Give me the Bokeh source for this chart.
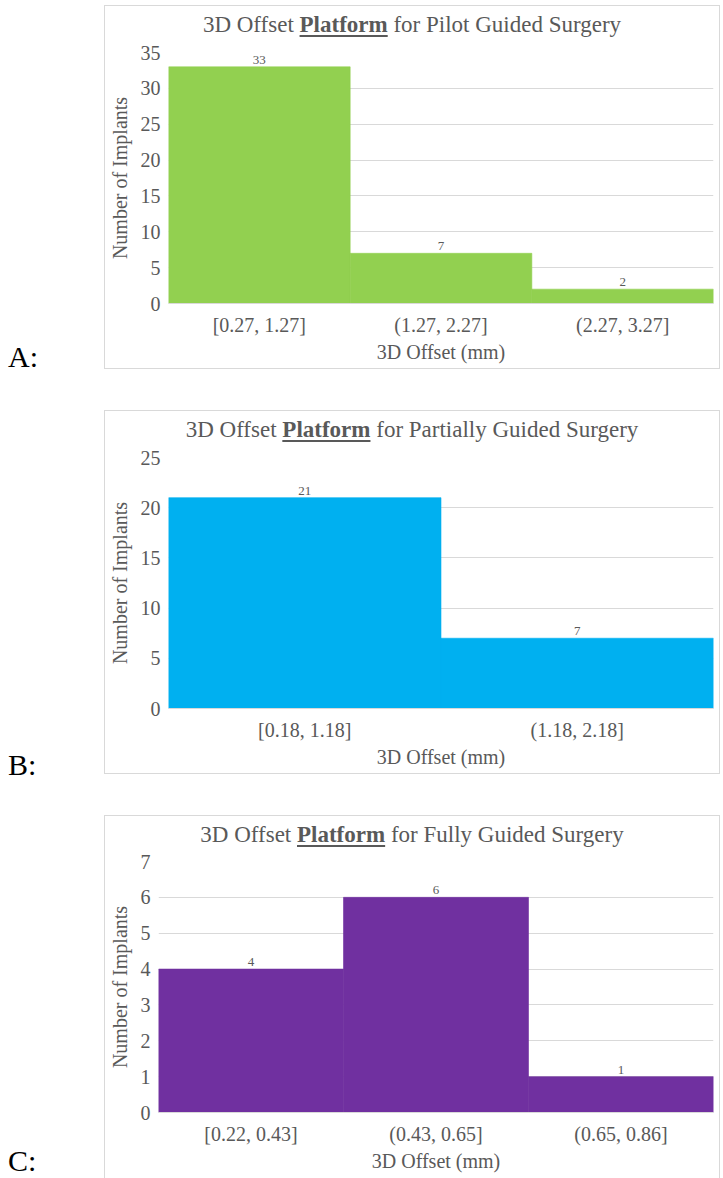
from bokeh.plotting import figure
from bokeh.layouts import column, row
from bokeh.models import Range1d, FixedTicker, Div, Spacer
from bokeh.core.properties import value
from bokeh.embed import file_html
from bokeh.resources import INLINE

# ---------------- data ----------------
a_bins = ["[0.27, 1.27]", "(1.27, 2.27]", "(2.27, 3.27]"]
a_counts = [33, 7, 2]
b_bins = ["[0.18, 1.18]", "(1.18, 2.18]"]
b_counts = [21, 7]
c_bins = ["[0.22, 0.43]", "(0.43, 0.65]", "(0.65, 0.86]"]
c_counts = [4, 6, 1]
panel_letters = ["A:", "B:", "C:"]
title_pre = "3D Offset"
title_bold = "Platform"
title_posts = ["for Pilot Guided Surgery", "for Partially Guided Surgery", "for Fully Guided Surgery"]
y_max = [35, 25, 7]
y_step = [5, 5, 1]
x_title = "3D Offset (mm)"
y_title = "Number of Implants"
colors = ["#92D050", "#00B0F0", "#7030A0"]

FONT = "Liberation Serif"
CSS_FONT = "Liberation Serif, Times New Roman, serif"
GREY = "#595959"
GRID = "#D9D9D9"

PANEL_W = 614
TITLE_H = 32
FIG_H = 330
LETTER_W = 105
# per-panel layout: figure borders, letter padding-top
layouts = [
    dict(bl=63, bt=14, bb=65, letter_pad=336),
    dict(bl=63, bt=14, bb=65, letter_pad=339),
    dict(bl=53, bt=13, bb=66, letter_pad=330),
]


def make_figure(i, bins, counts):
    L = layouts[i]
    p = figure(width=PANEL_W, height=FIG_H, x_range=bins, y_range=Range1d(0, y_max[i]),
               output_backend="svg", toolbar_location=None, tools="",
               min_border_left=L["bl"], min_border_right=6,
               min_border_top=L["bt"], min_border_bottom=L["bb"])
    p.outline_line_color = None
    p.background_fill_color = "white"
    p.border_fill_color = "white"

    p.vbar(x=bins, top=counts, width=1.0, fill_color=colors[i],
           line_color=colors[i], line_width=0.6)
    p.text(x=bins, y=counts, text=[str(c) for c in counts], text_align="center",
           text_baseline="bottom", y_offset=-3, text_font=value(FONT),
           text_font_size="13px", text_color=GREY)

    p.xgrid.grid_line_color = None
    p.ygrid.grid_line_color = GRID
    p.ygrid.grid_line_width = 1
    p.yaxis.ticker = FixedTicker(ticks=list(range(0, y_max[i] + 1, y_step[i])))

    for ax in (p.xaxis, p.yaxis):
        ax.major_tick_line_color = None
        ax.minor_tick_line_color = None
        ax.major_tick_in = 0
        ax.major_tick_out = 0
        ax.minor_tick_in = 0
        ax.minor_tick_out = 0
        ax.major_label_text_font = FONT
        ax.major_label_text_font_size = "20px"
        ax.major_label_text_color = GREY
        ax.axis_label_text_font = FONT
        ax.axis_label_text_font_size = "20px"
        ax.axis_label_text_font_style = "normal"
        ax.axis_label_text_color = GREY
    p.xaxis.axis_line_color = GRID
    p.yaxis.axis_line_color = None
    p.xaxis.axis_label = x_title
    p.yaxis.axis_label = y_title
    p.xaxis.major_label_standoff = 10
    p.xaxis.axis_label_standoff = 2
    p.yaxis.major_label_standoff = 8
    p.yaxis.axis_label_standoff = 7
    return p


def make_panel(i, bins, counts):
    L = layouts[i]
    title_html = (
        f'<div style="width:{PANEL_W}px;text-align:center;font-family:{CSS_FONT};'
        f'font-size:23px;line-height:normal;color:{GREY};padding-top:6px;white-space:nowrap;">'
        f'{title_pre} <b style="text-decoration:underline;text-decoration-thickness:2px;'
        f'text-underline-offset:3px;text-decoration-color:{GREY};">{title_bold}</b> {title_posts[i]}</div>'
    )
    title = Div(text=title_html, width=PANEL_W, height=TITLE_H, margin=0)
    fig = make_figure(i, bins, counts)
    box = column(title, fig, spacing=0,
                 styles={"outline": f"1px solid {GRID}", "outline-offset": "0px"})
    letter_html = (
        f'<div style="font-family:{CSS_FONT};font-size:30px;line-height:1;color:black;'
        f'padding-top:{L["letter_pad"]}px;padding-left:8px;">{panel_letters[i]}</div>'
    )
    letter = Div(text=letter_html, width=LETTER_W, height=TITLE_H + FIG_H, margin=0)
    return row(letter, box, spacing=0)


pa = make_panel(0, a_bins, a_counts)
pb = make_panel(1, b_bins, b_counts)
pc = make_panel(2, c_bins, c_counts)

layout = column(Spacer(height=6, width=10), pa, Spacer(height=43, width=10), pb,
                Spacer(height=43, width=10), pc, spacing=0)
open("out.html", "w").write(file_html(layout, INLINE))
